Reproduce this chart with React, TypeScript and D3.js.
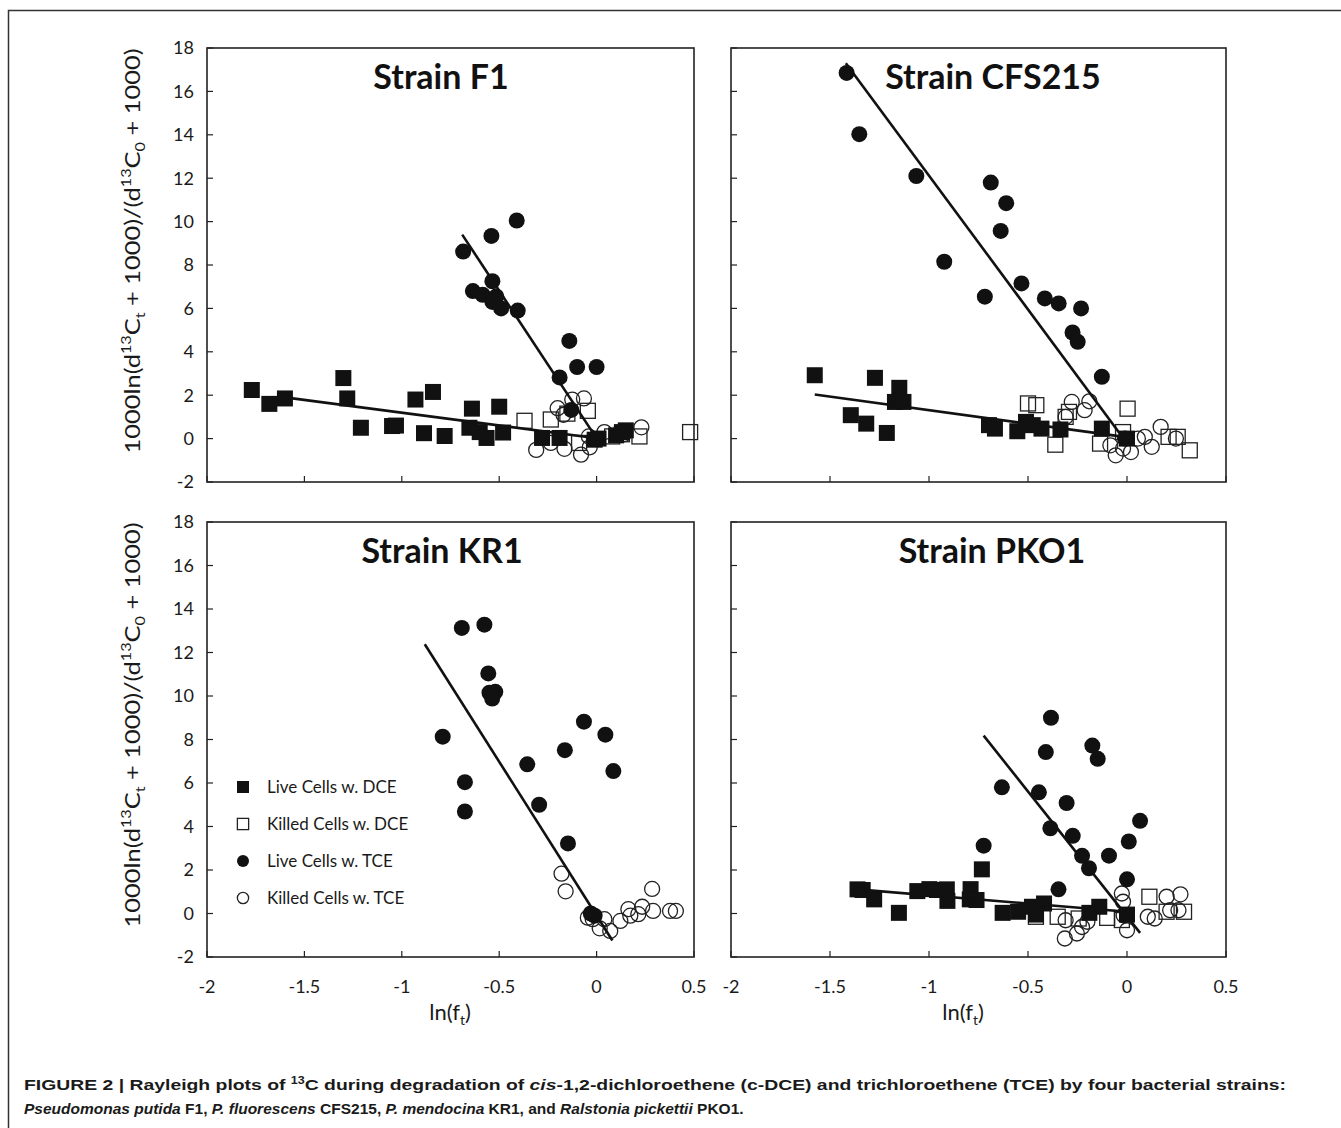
import React from "react";
import * as d3 from "d3";

// ---------- Data (x = ln(f_t), y = 1000ln(...)) ----------
const xTicks = [-2, -1.5, -1, -0.5, 0, 0.5];
const yTicks = [-2, 0, 2, 4, 6, 8, 10, 12, 14, 16, 18];
const xTickLabels = ["-2", "-1.5", "-1", "-0.5", "0", "0.5"];
const yTickLabels = ["-2", "0", "2", "4", "6", "8", "10", "12", "14", "16", "18"];

const legendLabels = ["Live Cells w. DCE", "Killed Cells w. DCE", "Live Cells w. TCE", "Killed Cells w. TCE"];
const panelTitles = ["Strain F1", "Strain CFS215", "Strain KR1", "Strain PKO1"];

// Strain F1
const f1LiveDCE = [[-1.77,2.24],[-1.68,1.6],[-1.6,1.85],[-1.3,2.79],[-1.28,1.85],[-1.21,0.5],[-1.05,0.58],[-1.03,0.6],[-0.93,1.8],[-0.886,0.25],[-0.84,2.15],[-0.78,0.12],[-0.64,1.38],[-0.653,0.5],[-0.6,0.3],[-0.565,0.03],[-0.5,1.47],[-0.48,0.28],[-0.28,0.03],[-0.19,0.03],[-0.01,-0.05],[0.01,0.0],[0.1,0.15],[0.13,0.3],[0.15,0.38]];
const f1KilledDCE = [[-0.37,0.82],[-0.235,0.88],[-0.15,1.15],[-0.045,1.28],[-0.09,-0.2],[0.08,0.1],[0.13,0.2],[0.22,0.1],[0.48,0.3]];
const f1LiveTCE = [[-0.685,8.62],[-0.635,6.8],[-0.585,6.63],[-0.54,9.34],[-0.535,7.25],[-0.535,6.3],[-0.515,6.55],[-0.49,6.0],[-0.41,10.05],[-0.405,5.9],[-0.19,2.82],[-0.14,4.5],[-0.1,3.3],[-0.13,1.32],[0.0,3.3],[-0.005,-0.02]];
const f1KilledTCE = [[-0.31,-0.52],[-0.235,-0.2],[-0.2,1.4],[-0.165,-0.47],[-0.125,1.8],[-0.065,1.85],[-0.08,-0.74],[-0.035,-0.4],[-0.04,0.1],[0.04,0.3],[0.14,0.2],[0.23,0.52],[-0.17,1.1]];
const f1LineDCE = [[-1.6,1.9],[0.0,0.02]];
const f1LineTCE = [[-0.69,9.4],[-0.01,0.15]];

// Strain CFS215
const cfsLiveDCE = [[-1.577,2.92],[-1.395,1.08],[-1.317,0.69],[-1.273,2.8],[-1.213,0.26],[-1.15,2.34],[-1.172,1.69],[-1.129,1.69],[-0.697,0.62],[-0.667,0.46],[-0.554,0.34],[-0.51,0.77],[-0.476,0.62],[-0.432,0.46],[-0.336,0.42],[-0.127,0.46],[0.0,0.0]];
const cfsKilledDCE = [[-0.5,1.62],[-0.458,1.54],[-0.362,-0.28],[-0.293,1.23],[-0.31,1.0],[0.003,1.38],[-0.136,-0.23],[-0.02,0.3],[0.21,0.08],[0.256,0.08],[0.317,-0.54]];
const cfsLiveTCE = [[-1.416,16.85],[-1.352,14.03],[-1.064,12.1],[-0.688,11.8],[-0.61,10.85],[-0.638,9.57],[-0.923,8.15],[-0.533,7.15],[-0.718,6.54],[-0.415,6.46],[-0.345,6.23],[-0.232,6.0],[-0.275,4.89],[-0.249,4.46],[-0.127,2.85],[-0.01,0.0]];
const cfsKilledTCE = [[-0.279,1.69],[-0.214,1.31],[-0.19,1.72],[-0.31,1.0],[-0.084,-0.31],[-0.057,-0.77],[0.02,-0.62],[-0.02,-0.46],[0.09,0.08],[0.125,-0.38],[0.17,0.54],[0.247,0.0],[0.055,0.0]];
const cfsLineDCE = [[-1.577,2.03],[-0.014,0.08]];
const cfsLineTCE = [[-1.42,17.3],[-0.03,0.15]];

// Strain KR1
const kr1LiveDCE: number[][] = [];
const kr1KilledDCE: number[][] = [];
const kr1LiveTCE = [[-0.692,13.13],[-0.576,13.28],[-0.556,11.04],[-0.55,10.15],[-0.52,10.19],[-0.536,9.88],[-0.79,8.13],[-0.676,6.04],[-0.676,4.69],[-0.356,6.86],[-0.295,5.0],[-0.163,7.51],[-0.147,3.22],[-0.065,8.82],[0.045,8.22],[0.086,6.55],[-0.01,-0.1],[-0.03,0.0]];
const kr1KilledTCE = [[-0.18,1.83],[-0.159,1.02],[-0.045,-0.19],[-0.02,-0.26],[0.016,-0.68],[0.04,-0.26],[0.07,-0.8],[0.122,-0.34],[0.163,0.2],[0.173,-0.1],[0.214,-0.03],[0.234,0.31],[0.285,1.13],[0.29,0.12],[0.377,0.12],[0.407,0.12]];
const kr1LineTCE = [[-0.882,12.38],[0.081,-1.24]];

// Strain PKO1
const pkoLiveDCE = [[-1.361,1.11],[-1.335,1.08],[-1.277,0.65],[-1.152,0.03],[-1.059,1.03],[-0.998,1.12],[-0.96,1.08],[-0.91,1.11],[-0.907,0.58],[-0.79,1.12],[-0.794,0.65],[-0.733,2.03],[-0.76,0.62],[-0.628,0.03],[-0.55,0.08],[-0.48,0.31],[-0.419,0.46],[-0.46,-0.05],[-0.19,0.03],[-0.14,0.31],[0.0,-0.05]];
const pkoKilledDCE = [[-0.35,-0.15],[-0.244,-0.23],[-0.1,-0.2],[0.113,0.77],[0.2,0.08],[0.288,0.08],[-0.026,-0.3],[-0.46,-0.15]];
const pkoLiveTCE = [[-0.384,9.0],[-0.41,7.42],[-0.175,7.72],[-0.148,7.11],[-0.632,5.8],[-0.445,5.57],[-0.305,5.08],[-0.387,3.92],[-0.274,3.57],[0.066,4.26],[0.009,3.31],[-0.724,3.12],[-0.227,2.65],[-0.192,2.08],[-0.091,2.66],[0.0,1.57],[-0.346,1.11]];
const pkoKilledTCE = [[-0.31,-0.31],[-0.314,-1.15],[-0.253,-0.92],[-0.227,-0.62],[-0.2,-0.38],[-0.026,0.92],[-0.02,0.54],[0.0,-0.77],[-0.017,-0.08],[0.105,-0.15],[0.14,-0.23],[0.2,0.77],[0.218,0.15],[0.27,0.88],[0.26,0.15]];
const pkoLineDCE = [[-1.361,1.11],[0.0,0.08]];
const pkoLineTCE = [[-0.724,8.18],[0.066,-0.89]];

// ---------- Layout ----------
const FONT = "Lato, 'Open Sans', sans-serif";

type Box = { left: number; right: number; top: number; bottom: number };

const panels = [
  { title: panelTitles[0], titleX: 441, box: { left: 207, right: 694, top: 48, bottom: 482 }, liveDCE: f1LiveDCE, killedDCE: f1KilledDCE, liveTCE: f1LiveTCE, killedTCE: f1KilledTCE, lines: [f1LineDCE, f1LineTCE], yLabels: true, xLabels: false, legend: false },
  { title: panelTitles[1], titleX: 993, box: { left: 731, right: 1226, top: 48, bottom: 482 }, liveDCE: cfsLiveDCE, killedDCE: cfsKilledDCE, liveTCE: cfsLiveTCE, killedTCE: cfsKilledTCE, lines: [cfsLineDCE, cfsLineTCE], yLabels: false, xLabels: false, legend: false },
  { title: panelTitles[2], titleX: 442, box: { left: 207, right: 694, top: 522, bottom: 957 }, liveDCE: kr1LiveDCE, killedDCE: kr1KilledDCE, liveTCE: kr1LiveTCE, killedTCE: kr1KilledTCE, lines: [kr1LineTCE], yLabels: true, xLabels: true, legend: true },
  { title: panelTitles[3], titleX: 992, box: { left: 731, right: 1226, top: 522, bottom: 957 }, liveDCE: pkoLiveDCE, killedDCE: pkoKilledDCE, liveTCE: pkoLiveTCE, killedTCE: pkoKilledTCE, lines: [pkoLineDCE, pkoLineTCE], yLabels: false, xLabels: true, legend: false },
];

const INK = "#111";

function Marker({ kind, x, y, s = 1 }: { kind: number; x: number; y: number; s?: number }) {
  if (kind === 0) {
    const w = 16 * s;
    return <rect x={x - w / 2} y={y - w / 2} width={w} height={w} fill={INK} />;
  }
  if (kind === 1) {
    const w = 15 * s;
    return <rect x={x - w / 2} y={y - w / 2} width={w} height={w} fill="none" stroke="#222" strokeWidth={1.3} />;
  }
  if (kind === 2) {
    return <circle cx={x} cy={y} r={8 * s} fill={INK} />;
  }
  return <circle cx={x} cy={y} r={7.5 * s} fill="none" stroke="#222" strokeWidth={1.3} />;
}

function YTitle({ x, y }: { x: number; y: number }) {
  return (
    <text x={x} y={y} transform={`rotate(-90 ${x} ${y})`} textAnchor="middle" fontFamily={FONT} fontSize={22} fill="#1a1a1a" textLength={405} lengthAdjust="spacingAndGlyphs">
      <tspan>1000ln(d</tspan>
      <tspan fontSize={14} dy={-9}>13</tspan>
      <tspan dy={9}>C</tspan>
      <tspan fontSize={14} dy={5}>t</tspan>
      <tspan dy={-5}> + 1000)/(d</tspan>
      <tspan fontSize={14} dy={-9}>13</tspan>
      <tspan dy={9}>C</tspan>
      <tspan fontSize={14} dy={5}>0</tspan>
      <tspan dy={-5}> + 1000)</tspan>
    </text>
  );
}

function XTitle({ x, y }: { x: number; y: number }) {
  return (
    <text x={x} y={y} textAnchor="middle" fontFamily={FONT} fontSize={22} fill="#1a1a1a">
      <tspan>ln(f</tspan>
      <tspan fontSize={14} dy={5}>t</tspan>
      <tspan dy={-5}>)</tspan>
    </text>
  );
}

function Panel({ p }: { p: (typeof panels)[number] }) {
  const b: Box = p.box;
  const xs = d3.scaleLinear().domain([-2, 0.5]).range([b.left, b.right]);
  const ys = d3.scaleLinear().domain([-2, 18]).range([b.bottom, b.top]);
  const line = d3.line<number[]>().x((d) => xs(d[0])).y((d) => ys(d[1]));
  const series = [p.killedTCE, p.killedDCE, p.liveDCE, p.liveTCE];
  const kinds = [3, 1, 0, 2];
  return (
    <g>
      {series.map((arr, si) =>
        arr.map((d, i) => <Marker key={`${si}-${i}`} kind={kinds[si]} x={xs(d[0])} y={ys(d[1])} />)
      )}
      {p.lines.map((l, i) => (
        <path key={i} d={line(l) || ""} fill="none" stroke={INK} strokeWidth={2.6} />
      ))}
      <rect x={b.left} y={b.top} width={b.right - b.left} height={b.bottom - b.top} fill="none" stroke="#222" strokeWidth={1.6} />
      {yTicks.map((t) => (
        <line key={`yt${t}`} x1={b.left} x2={b.left + 6} y1={ys(t)} y2={ys(t)} stroke="#222" strokeWidth={1.2} />
      ))}
      {xTicks.map((t) => (
        <line key={`xt${t}`} x1={xs(t)} x2={xs(t)} y1={b.bottom} y2={b.bottom - 6} stroke="#222" strokeWidth={1.2} />
      ))}
      {p.yLabels &&
        yTicks.map((t, i) => (
          <text key={`yl${t}`} x={b.left - 13} y={ys(t)} dy="0.35em" textAnchor="end" fontFamily={FONT} fontSize={18} fill="#1a1a1a">
            {yTickLabels[i]}
          </text>
        ))}
      {p.xLabels &&
        xTicks.map((t, i) => (
          <text key={`xl${t}`} x={xs(t)} y={b.bottom + 30} dy="0.35em" textAnchor="middle" fontFamily={FONT} fontSize={18} fill="#1a1a1a">
            {xTickLabels[i]}
          </text>
        ))}
      <text x={p.titleX} y={b.top + 41} textAnchor="middle" fontFamily={FONT} fontWeight={700} fontSize={34} fill="#111">
        {p.title}
      </text>
      {p.legend &&
        legendLabels.map((lab, i) => (
          <g key={lab}>
            <Marker kind={i} x={b.left + 36} y={b.top + 265 + i * 37} s={0.75} />
            <text x={b.left + 60} y={b.top + 265 + i * 37} dy="0.35em" fontFamily={FONT} fontSize={17} fill="#1a1a1a">
              {lab}
            </text>
          </g>
        ))}
    </g>
  );
}

export default function App() {
  const CAP = "'Liberation Sans', Arial, sans-serif";
  return (
    <svg width={1341} height={1128} viewBox="0 0 1341 1128" style={{ display: "block", position: "absolute", left: 0, top: 0, background: "#fff" }}>
      <rect x={0} y={0} width={1341} height={1128} fill="#fff" />
      <path d="M 1341 10.5 L 8.5 10.5 L 8.5 1128" fill="none" stroke="#333" strokeWidth={1.5} />
      {panels.map((p, i) => (
        <Panel key={i} p={p} />
      ))}
      <YTitle x={140} y={251} />
      <YTitle x={140} y={725} />
      <XTitle x={450} y={1020} />
      <XTitle x={963} y={1020} />
      <text x={24} y={1090} fontFamily={CAP} fontWeight={700} fontSize={15.5} fill="#1a1a1a" textLength={1262} lengthAdjust="spacingAndGlyphs">
        <tspan>FIGURE 2 | Rayleigh plots of </tspan>
        <tspan fontSize={10} dy={-6}>13</tspan>
        <tspan dy={6}>C during degradation of </tspan>
        <tspan fontStyle="italic">cis</tspan>
        <tspan>-1,2-dichloroethene (c-DCE) and trichloroethene (TCE) by four bacterial strains:</tspan>
      </text>
      <text x={24} y={1114} fontFamily={CAP} fontWeight={700} fontSize={15.5} fill="#1a1a1a">
        <tspan fontStyle="italic">Pseudomonas putida</tspan>
        <tspan> F1, </tspan>
        <tspan fontStyle="italic">P. fluorescens</tspan>
        <tspan> CFS215, </tspan>
        <tspan fontStyle="italic">P. mendocina</tspan>
        <tspan> KR1, and </tspan>
        <tspan fontStyle="italic">Ralstonia pickettii</tspan>
        <tspan> PKO1.</tspan>
      </text>
    </svg>
  );
}
